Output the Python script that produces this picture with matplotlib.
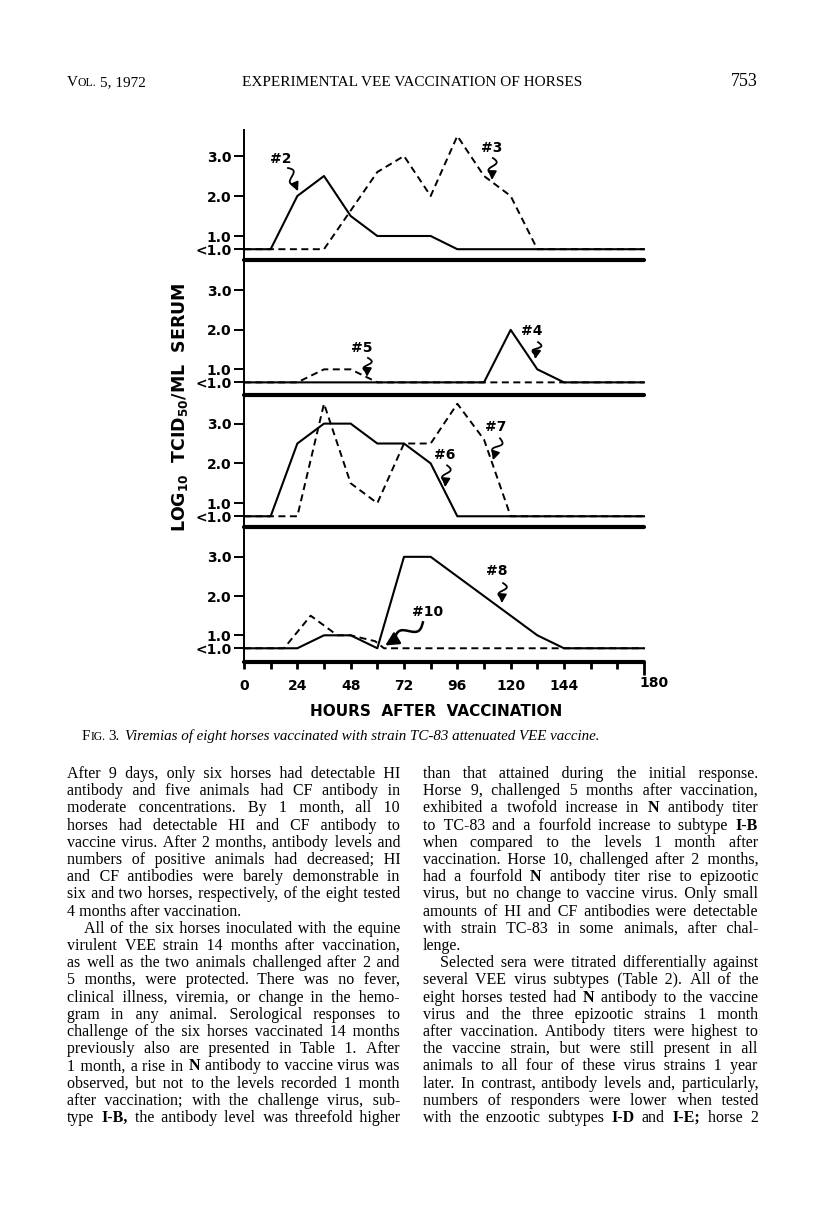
import numpy as np
import matplotlib
matplotlib.use("Agg")
import matplotlib.pyplot as plt

plt.rcParams["font.family"] = "DejaVu Sans"
plt.rcParams["mathtext.default"] = "bf"

# "<1.0" is plotted a little below the 1.0 line
LOW = 0.67

# panel 1: horse #2 (solid), horse #3 (dashed)
h2_hours = [0, 12, 24, 36, 48, 60, 72, 84, 96, 180]
h2_titer = [LOW, LOW, 2.0, 2.5, 1.5, 1.0, 1.0, 1.0, LOW, LOW]
h3_hours = [0, 36, 60, 72, 84, 96, 108, 120, 132, 180]
h3_titer = [LOW, LOW, 2.6, 3.0, 2.0, 3.5, 2.5, 2.0, LOW, LOW]

# panel 2: horse #4 (solid), horse #5 (dashed)
h4_hours = [0, 108, 120, 132, 144, 180]
h4_titer = [LOW, LOW, 2.0, 1.0, LOW, LOW]
h5_hours = [0, 24, 36, 48, 60, 180]
h5_titer = [LOW, LOW, 1.0, 1.0, LOW, LOW]

# panel 3: horse #6 (solid), horse #7 (dashed)
h6_hours = [0, 12, 24, 36, 48, 60, 72, 84, 96, 180]
h6_titer = [LOW, LOW, 2.5, 3.0, 3.0, 2.5, 2.5, 2.0, LOW, LOW]
h7_hours = [0, 24, 36, 48, 60, 72, 84, 96, 108, 120, 180]
h7_titer = [LOW, LOW, 3.5, 1.5, 1.0, 2.5, 2.5, 3.5, 2.6, LOW, LOW]

# panel 4: horse #8 (solid), horse #10 (dashed)
h8_hours = [0, 24, 36, 48, 60, 72, 84, 132, 144, 180]
h8_titer = [LOW, LOW, 1.0, 1.0, LOW, 3.0, 3.0, 1.0, LOW, LOW]
h10_hours = [0, 18, 30, 42, 48, 59, 63, 180]
h10_titer = [LOW, LOW, 1.5, 1.0, 1.0, 0.85, LOW, LOW]

ytick_vals = [LOW, 1, 2, 3]
ytick_labels = ["<1.0", "1.0", "2.0", "3.0"]
xtick_vals = list(range(0, 181, 12))
xtick_labels = ["0", "", "24", "", "48", "", "72", "", "96", "", "120", "", "144", "", "", ""]

W, H = 816, 1228
fig = plt.figure(figsize=(8.16, 12.28), dpi=100)
renderer = fig.canvas.get_renderer()


def fx(x):
    return x / W


def fy(y):
    return 1 - y / H


def width(t):
    return t.get_window_extent(renderer=renderer).width


def squiggle(ax, start, tip, amp=4.0, lw=1.3, head="head_length=0.5,head_width=0.25"):
    T = ax.transData
    p0 = np.array(T.transform(start))
    p1 = np.array(T.transform(tip))
    d = p1 - p0
    L = np.hypot(d[0], d[1])
    u = d / L
    n = np.array([-u[1], u[0]])
    t = np.linspace(0, 0.75, 40)
    off = amp * np.sin(2 * np.pi * t / 0.75)
    pts = p0 + np.outer(t * L, u) + np.outer(off, n)
    dat = T.inverted().transform(pts)
    ax.plot(dat[:, 0], dat[:, 1], color="k", lw=lw, clip_on=False)
    ax.annotate("", xy=tip, xytext=(dat[-1, 0], dat[-1, 1]),
                arrowprops=dict(arrowstyle="-|>," + head, color="k", lw=lw,
                                shrinkA=0, shrinkB=0),
                annotation_clip=False)


# ---------------- chart ----------------
panel_px = [(130, 260), (260, 395), (395, 527), (527, 662)]
ylims = [(0.40, 3.65), (0.35, 3.77), (0.40, 3.72), (0.32, 3.76)]
series = [
    ((h2_hours, h2_titer), (h3_hours, h3_titer)),
    ((h4_hours, h4_titer), (h5_hours, h5_titer)),
    ((h6_hours, h6_titer), (h7_hours, h7_titer)),
    ((h8_hours, h8_titer), (h10_hours, h10_titer)),
]
# (label, label position, squiggle start, arrow tip)
notes = [
    [("#2", (16.6, 2.93), (19.8, 2.70), (24.3, 2.12)),
     ("#3", (111.6, 3.20), (112.0, 2.95), (111.6, 2.40))],
    [("#5", (53.0, 1.54), (55.8, 1.29), (55.3, 0.81)),
     ("#4", (129.6, 1.97), (132.3, 1.69), (131.0, 1.26))],
    [("#6", (90.5, 2.21), (91.4, 1.95), (90.5, 1.40)),
     ("#7", (113.4, 2.91), (115.2, 2.63), (112.0, 2.08))],
    [("#8", (113.9, 2.63), (116.6, 2.33), (116.0, 1.82)),
     ("#10", (82.5, 1.59), (80.5, 1.33), (63.5, 0.74))],
]

for i, ((top, bot), ylim) in enumerate(zip(panel_px, ylims)):
    ax = fig.add_axes([fx(244), fy(bot), fx(644) - fx(244), (bot - top) / H])
    ax.set_facecolor("none")
    ax.set_xlim(0, 180)
    ax.set_ylim(*ylim)
    for s in ["top", "right"]:
        ax.spines[s].set_visible(False)
    ax.spines["left"].set_linewidth(1.4)
    ax.spines["bottom"].set_linewidth(3.0)
    ax.spines["bottom"].set_capstyle("round")
    ax.set_yticks(ytick_vals)
    ax.set_yticklabels(ytick_labels, fontsize=10, fontweight="bold")
    ax.tick_params(axis="y", direction="out", length=7, width=1.4, pad=2)

    (sx, sy), (dx, dy) = series[i]
    ax.plot(dx, dy, color="k", lw=1.4, ls=(0, (3.6, 2.3)), clip_on=False)
    ax.plot(sx, sy, color="k", lw=1.5, clip_on=False)

    for label, lxy, start, tip in notes[i]:
        ax.text(lxy[0], lxy[1], label, fontsize=10, fontweight="bold",
                ha="center", va="center")
        if label == "#10":
            squiggle(ax, start, tip, amp=5.0, lw=1.8,
                     head="head_length=0.8,head_width=0.4")
        else:
            squiggle(ax, start, tip)

    if i < 3:
        ax.set_xticks([])
    else:
        ax.set_xticks(xtick_vals)
        ax.set_xticklabels(xtick_labels, fontsize=10, fontweight="bold")
        ax.tick_params(axis="x", direction="out", length=5, width=2, pad=7)
        ax.xaxis.get_major_ticks()[-1].tick1line.set_markersize(9)
        ax.annotate("180", xy=(180, 0), xycoords=("data", "axes fraction"),
                    xytext=(7, -15), textcoords="offset points",
                    ha="center", va="center", fontsize=10, fontweight="bold")

yl = fig.text(fx(180), fy(407), r"LOG$_{10}$  TCID$_{50}$/ML  SERUM",
              rotation=90, ha="center", va="center", fontsize=11, fontweight="bold")
yl.set_fontsize(11 * 249 / yl.get_window_extent(renderer=renderer).height)
fig.text(fx(436), fy(711), "HOURS  AFTER  VACCINATION", ha="center", va="center",
         fontsize=11, fontweight="bold")

# ---------------- page text ----------------
SERIF = ["Liberation Serif", "DejaVu Sans"]
HAIR = "\u200a"


def runs(parts, x, y):
    for s, size, style, gap in parts:
        t = fig.text(fx(x), fy(y), s, fontsize=size, family=SERIF, style=style,
                     va="baseline", ha="left")
        x += width(t) + gap
    return x


runs([("V", 11, "normal", 0), ("OL.", 8.5, "normal", 3), ("5, 1972", 11, "normal", 0)], 67, 86)
fig.text(fx(412), fy(86), "EXPERIMENTAL VEE VACCINATION OF HORSES", fontsize=11,
         family=SERIF, ha="center", va="baseline")
fig.text(fx(758), fy(86), "753", fontsize=13, family=SERIF, ha="right", va="baseline")

runs([("F", 10.8, "normal", 0), ("IG.", 8.4, "normal", 3), ("3.", 10.8, "normal", 5),
      ("Viremias of eight horses vaccinated with strain TC-83 attenuated VEE vaccine.",
       10.8, "italic", 0)], 82, 740)

left_col = [
    (["After 9 days, only six horses had detectable HI",
      "antibody and five animals had CF antibody in",
      "moderate concentrations. By 1 month, all 10",
      "horses had detectable HI and CF antibody to",
      "vaccine virus. After 2 months, antibody levels and",
      "numbers of positive animals had decreased; HI",
      "and CF antibodies were barely demonstrable in",
      "six and two horses, respectively, of the eight tested",
      "4 months after vaccination."], False, False),
    (["All of the six horses inoculated with the equine",
      "virulent VEE strain 14 months after vaccination,",
      "as well as the two animals challenged after 2 and",
      "5 months, were protected. There was no fever,",
      "clinical illness, viremia, or change in the hemo-",
      "gram in any animal. Serological responses to",
      "challenge of the six horses vaccinated 14 months",
      "previously also are presented in Table 1. After",
      "1 month, a rise in N antibody to vaccine virus was",
      "observed, but not to the levels recorded 1 month",
      "after vaccination; with the challenge virus, sub-",
      "type I-B, the antibody level was threefold higher"], True, True),
]
right_col = [
    (["than that attained during the initial response.",
      "Horse 9, challenged 5 months after vaccination,",
      "exhibited a twofold increase in N antibody titer",
      "to TC-83 and a fourfold increase to subtype I-B",
      "when compared to the levels 1 month after",
      "vaccination. Horse 10, challenged after 2 months,",
      "had a fourfold N antibody titer rise to epizootic",
      "virus, but no change to vaccine virus. Only small",
      "amounts of HI and CF antibodies were detectable",
      "with strain TC-83 in some animals, after chal-",
      "lenge."], False, False),
    (["Selected sera were titrated differentially against",
      "several VEE virus subtypes (Table 2). All of the",
      "eight horses tested had N antibody to the vaccine",
      "virus and the three epizootic strains 1 month",
      "after vaccination. Antibody titers were highest to",
      "the vaccine strain, but were still present in all",
      "animals to all four of these virus strains 1 year",
      "later. In contrast, antibody levels and, particularly,",
      "numbers of responders were lower when tested",
      "with the enzootic subtypes I-D and I-E; horse 2"], True, True),
]
BOLD = {"N", "I-B", "I-B,", "I-D", "I-E;"}
LEAD = 17.2
INDENT = 17
BODY = 11.5


def measure(s, weight="normal"):
    t = fig.text(0, 0, s, fontsize=BODY, family=SERIF, fontweight=weight)
    w = width(t)
    t.remove()
    return w


HAIR_W = (measure("x" + HAIR * 40 + "x") - measure("xx")) / 40
SPACE_W = BODY * 0.25 * 100 / 72


def draw_line(line, x0, x1, y, justify):
    # one text object per run of same-weight words; the gaps between words
    # are filled with hair spaces so every word lands on its justified place
    words = line.split(" ")
    weights = ["bold" if w in BOLD else "normal" for w in words]
    ws = [measure(w, wt) for w, wt in zip(words, weights)]
    gap = SPACE_W
    if justify and len(words) > 1:
        gap = (x1 - x0 - sum(ws)) / (len(words) - 1)
    targets = x0 + np.concatenate([[0], np.cumsum(np.array(ws[:-1]) + gap)])
    seg_text, seg_x, seg_wt, cursor = None, None, None, None
    for w, wt, ww, tx in zip(words, weights, ws, targets):
        if seg_text is not None and wt == seg_wt and wt == "normal":
            k = max(1, int(round((tx - cursor) / HAIR_W)))
            seg_text += HAIR * k + w
            cursor += k * HAIR_W + ww
            continue
        if seg_text is not None:
            fig.text(fx(seg_x), fy(y), seg_text, fontsize=BODY, family=SERIF,
                     fontweight=seg_wt, va="baseline")
        seg_text, seg_x, seg_wt, cursor = w, tx, wt, tx + ww
    fig.text(fx(seg_x), fy(y), seg_text, fontsize=BODY, family=SERIF,
             fontweight=seg_wt, va="baseline")


def draw_column(paras, x0, x1, y):
    for lines, indent, last_just in paras:
        for k, line in enumerate(lines):
            left = x0 + (INDENT if indent and k == 0 else 0)
            draw_line(line, left, x1, y, k < len(lines) - 1 or last_just)
            y += LEAD


draw_column(left_col, 67, 400, 778)
draw_column(right_col, 423, 758, 778)

fig.savefig("out.png", dpi=100, facecolor="white")
